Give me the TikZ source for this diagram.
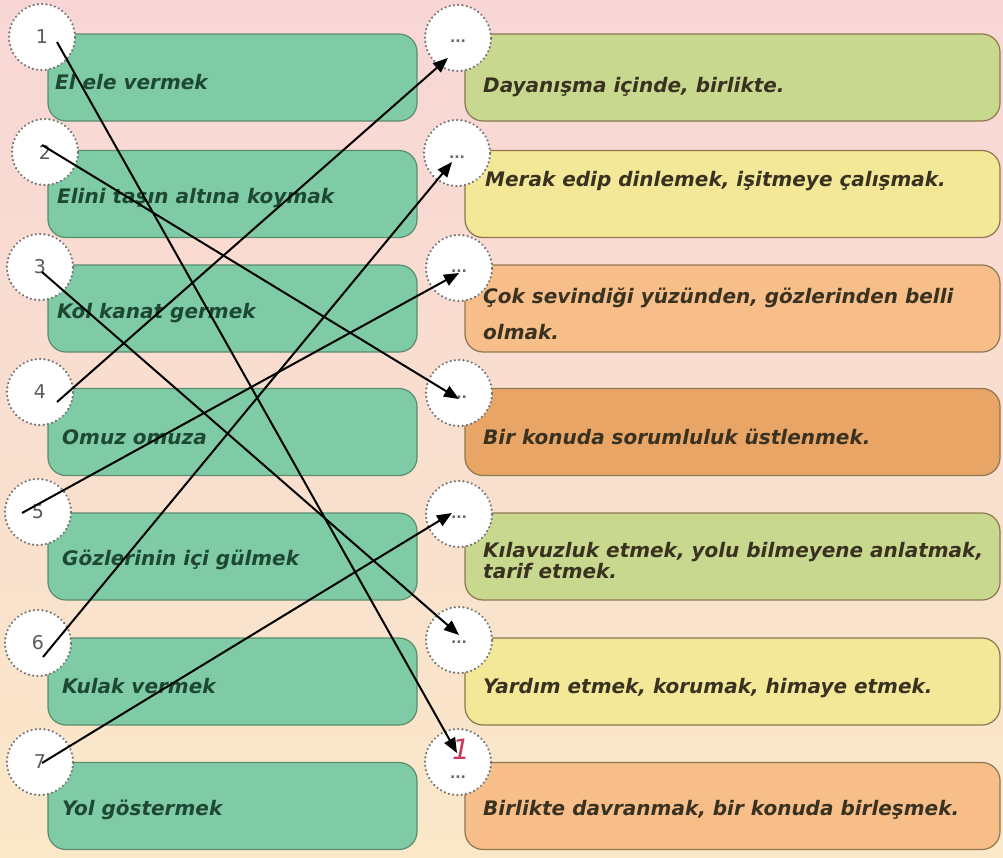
\documentclass[tikz,border=0pt]{standalone}
\usepackage{fontspec}
\setmainfont{DejaVu Sans}
\usetikzlibrary{arrows.meta}

\definecolor{bgtop}{RGB}{248,214,214}
\definecolor{bgmid}{RGB}{249,218,202}
\definecolor{bgbot}{RGB}{250,232,200}
\definecolor{idiomfill}{RGB}{126,203,166}
\definecolor{idiomedge}{RGB}{92,140,110}
\definecolor{idiomtext}{RGB}{30,72,52}
\definecolor{meantext}{RGB}{58,50,32}
\definecolor{meanedge}{RGB}{140,120,80}
\definecolor{lime}{RGB}{200,216,142}
\definecolor{paleyellow}{RGB}{243,231,152}
\definecolor{lightorange}{RGB}{247,190,138}
\definecolor{deeporange}{RGB}{232,165,102}
\definecolor{answerred}{RGB}{200,60,90}

\tikzset{
  idiom/.style={draw=idiomedge,fill=idiomfill,line width=1.2pt,rounded corners=18pt,
    minimum width=369pt,minimum height=87pt,inner sep=0pt},
  meaning/.style={draw=meanedge,line width=1.2pt,rounded corners=18pt,
    minimum width=535pt,minimum height=87pt,inner sep=0pt},
  numcirc/.style={shape=circle,fill=white,draw=black!55,line width=2.4pt,
    dash pattern=on 0.1pt off 4.2pt,line cap=round,minimum size=66pt,inner sep=0pt,
    text=black!65,font=\fontsize{19}{20}\selectfont},
  dotcirc/.style={numcirc},
  idiomtext/.style={anchor=west,text=idiomtext,inner sep=0pt,
    font=\fontsize{20}{24}\selectfont\bfseries\itshape},
  meantext/.style={anchor=west,text=meantext,inner sep=0pt,align=left,
    font=\fontsize{20}{24}\selectfont\bfseries\itshape},
  dotmark/.style={text=black!60,inner sep=0pt,font=\fontsize{14}{14}\selectfont\bfseries},
  match/.style={draw=black,line width=2pt,-{Triangle[length=15pt,width=12pt]}}
}

\begin{document}
\begin{tikzpicture}[x=1pt,y=-1pt]
        \useasboundingbox (0,0) rectangle (1003,857);
        \fill[top color=bgtop,middle color=bgmid,bottom color=bgbot] (0,0) rectangle (1003,857);

        % idiom boxes
        \node[idiom] (l1) at (232.5,77.5) {};
        \node[idiom] (l2) at (232.5,194) {};
        \node[idiom] (l3) at (232.5,308.5) {};
        \node[idiom] (l4) at (232.5,432) {};
        \node[idiom] (l5) at (232.5,556.5) {};
        \node[idiom] (l6) at (232.5,681.5) {};
        \node[idiom] (l7) at (232.5,806) {};

        % meaning boxes
        \node[meaning,fill=lime] (r1) at (732.5,77.5) {};
        \node[meaning,fill=paleyellow] (r2) at (732.5,194) {};
        \node[meaning,fill=lightorange] (r3) at (732.5,308.5) {};
        \node[meaning,fill=deeporange] (r4) at (732.5,432) {};
        \node[meaning,fill=lime] (r5) at (732.5,556.5) {};
        \node[meaning,fill=paleyellow] (r6) at (732.5,681.5) {};
        \node[meaning,fill=lightorange] (r7) at (732.5,806) {};

        % number circles
        \node[numcirc] (c1) at (42,37) {1};
        \node[numcirc] (c2) at (45,152) {2};
        \node[numcirc] (c3) at (40,267) {3};
        \node[numcirc] (c4) at (40,392) {4};
        \node[numcirc] (c5) at (38,512) {5};
        \node[numcirc] (c6) at (38,643) {6};
        \node[numcirc] (c7) at (40,762) {7};

        % answer circles
        \node[dotcirc] (d1) at (458,38) {};
        \node[dotcirc] (d2) at (457,153) {};
        \node[dotcirc] (d3) at (459,268) {};
        \node[dotcirc] (d4) at (459,393) {};
        \node[dotcirc] (d5) at (459,514) {};
        \node[dotcirc] (d6) at (459,640) {};
        \node[dotcirc] (d7) at (458,762) {};
        \node[dotmark] (m1) at (458,41) {...};
        \node[dotmark] (m2) at (457,157) {...};
        \node[dotmark] (m3) at (459,271) {...};
        \node[dotmark] (m4) at (459,397) {...};
        \node[dotmark] (m5) at (459,517) {...};
        \node[dotmark] (m6) at (459,642) {...};
        \node[dotmark] (m7) at (458,777) {...};
        \node[text=answerred,inner sep=0pt,font=\fontsize{28}{28}\selectfont\rmfamily\itshape] (a7) at (461,749) {1};

        % texts
        \node[idiomtext] (t1) at (55,82) {El ele vermek};
        \node[idiomtext] (t2) at (57,198) {Elini taşın altına koymak};
        \node[idiomtext] (t3) at (57,313) {Kol kanat germek};
        \node[idiomtext] (t4) at (62,437) {Omuz omuza};
        \node[idiomtext] (t5) at (62,560) {Gözlerinin içi gülmek};
        \node[idiomtext] (t6) at (62,686) {Kulak vermek};
        \node[idiomtext] (t7) at (62,810) {Yol göstermek};

        \node[meantext] (u1) at (483,87) {Dayanışma içinde, birlikte.};
        \node[meantext] (u2) at (485,181) {Merak edip dinlemek, işitmeye çalışmak.};
        \node[meantext] (u3) at (483,314) {Çok sevindiği yüzünden, gözlerinden belli\\[12pt]olmak.};
        \node[meantext] (u4) at (483,437) {Bir konuda sorumluluk üstlenmek.};
        \node[meantext] (u5) at (483,561) {Kılavuzluk etmek, yolu bilmeyene anlatmak,\\[-3pt]tarif etmek.};
        \node[meantext] (u6) at (483,688) {Yardım etmek, korumak, himaye etmek.};
        \node[meantext] (u7) at (483,810) {Birlikte davranmak, bir konuda birleşmek.};

        % matching lines
        \coordinate (p1) at (57,42);   \coordinate (q1) at (457,753);
        \coordinate (p2) at (42,145);  \coordinate (q2) at (459,399);
        \coordinate (p3) at (42,272);  \coordinate (q3) at (459,635);
        \coordinate (p4) at (57,402);  \coordinate (q4) at (448,58);
        \coordinate (p5) at (22,513);  \coordinate (q5) at (459,273);
        \coordinate (p6) at (43,657);  \coordinate (q6) at (452,162);
        \coordinate (p7) at (42,763);  \coordinate (q7) at (452,513);

        \draw [match] (p1) -- (q1);
        \draw [match] (p2) -- (q2);
        \draw [match] (p3) -- (q3);
        \draw [match] (p4) -- (q4);
        \draw [match] (p5) -- (q5);
        \draw [match] (p6) -- (q6);
        \draw [match] (p7) -- (q7);
    \end{tikzpicture}
\end{document}
